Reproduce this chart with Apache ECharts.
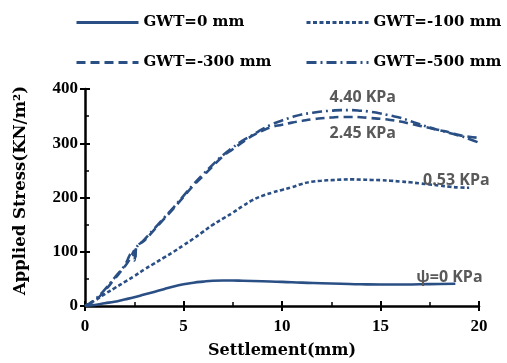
<!DOCTYPE html>
<html><head><meta charset="utf-8">
<script src="https://cdn.jsdelivr.net/npm/echarts@6/dist/echarts.min.js"></script>
<style>html,body{margin:0;padding:0;background:#fff}#c{width:507px;height:363px}</style>
</head><body><div id="c"></div>
<script>
const seriesNames = ['GWT=0 mm','GWT=-100 mm','GWT=-300 mm','GWT=-500 mm'];
const x0 = [0,0.5,1,1.5,2,2.5,3,3.5,4,4.5,5,5.5,6,6.5,7,7.5,8,9,10,11,12,13,14,15,16,17,18,18.8];
const y0 = [0,2,5,8,12,16,21,26,31,36,40,43,45,46.5,47,47,46.5,45.5,44.5,43,42,41,40,39.5,39.5,40,40.5,41];
const x100 = [0,0.5,1,1.5,2,2.5,3,3.5,4,4.5,5,5.5,6,6.5,7,7.5,8,8.5,9,9.5,10,10.5,11,11.5,12,12.5,13,13.5,14,14.5,15,15.5,16,16.5,17,17.5,18,18.5,19,19.5];
const y100 = [0,10,22,33,44,55,67,78,89,100,112,124,137,150,161,172,184,195,203,209,214,219,225,229,231,232,233,233.5,233,232.5,232,231,229.5,228,226,224,222,220,218.5,218];
const x300 = [0,0.5,1,1.5,2,2.3,2.5,2.55,2.6,3,3.5,4,4.5,5,5.5,6,6.5,7,7.5,8,8.5,9,9.5,10,10.5,11,11.5,12,12.5,13,13.5,14,14.5,15,15.5,16,16.5,17,17.5,18,18.5,19,19.5,20];
const y300 = [0,10,28,50,72,88,102,88,108,120,140,160,180,201,222,240,258,276,289,302,314,323,330,334,338,341,344,346,347.5,348.5,348.5,348,346.5,345,343,340,336,332,328,324,320,315,312,310];
const x500 = [0,0.5,1,1.5,2,2.4,2.5,2.6,3,3.5,4,4.5,5,5.5,6,6.5,7,7.5,8,8.5,9,9.5,10,10.5,11,11.5,12,12.5,13,13.5,14,14.5,15,15.5,16,16.5,17,17.5,18,18.5,19,19.5,20];
const y500 = [0,12,30,52,74,98,84,106,122,142,162,182,203,224,243,261,278,292,305,315,326,335,342,348,353,356,358.5,360,361,361,360,358,355,351,347,341,335,329,324,319,314,308,301];
const annoText = ['ψ=0 KPa','0.53 KPa','2.45 KPa','4.40 KPa'];
const annoX = [18.5,18.85,14.1,14.1];
const annoY = [52,232,319,385];
const xTicks = [0,5,10,15,20];
const yTicks = [0,100,200,300,400];

const color = '#2a4f85';
const serif = 'DejaVu Serif';
const tickFont = 'Liberation Serif';
const dashes = ['solid',[4,2.5],[9,5],[10,4,2,4]];
const xs=[x0,x100,x300,x500], ys=[y0,y100,y300,y500];

const chart = echarts.init(document.getElementById('c'));
const series = seriesNames.map((n,i)=>({
  name:n, type:'line', symbol:'none', smooth:true, xAxisIndex:0, yAxisIndex:0,
  data: xs[i].map((x,k)=>[x, ys[i][k]]),
  lineStyle:{color:color, width:2.6, type:dashes[i]},
  itemStyle:{color:color},
  markPoint:{symbol:'circle', symbolSize:0, silent:true,
    label:{show:true, position:'inside', formatter:annoText[i], color:'#595959', fontFamily:'Open Sans', fontWeight:'bold', fontSize:16},
    data:[{coord:[annoX[i], annoY[i]]}]}
}));
const legPos = [[75,15],[305,15],[75,55],[305,55]];
const legends = seriesNames.map((n,i)=>({
  data:[n], left:legPos[i][0], top:legPos[i][1], padding:0, itemWidth:62, itemHeight:14, itemGap:6,
  itemStyle:{opacity:0},
  lineStyle:{width:3},
  textStyle:{fontFamily:serif, fontWeight:'bold', fontSize:15, color:'#000'}
}));
const axisLabelStyle = {fontFamily:tickFont, fontWeight:'bold', fontSize:17, color:'#000'};
chart.setOption({
  animation:false,
  legend: legends,
  grid:{left:85, right:28, top:89, bottom:57, containLabel:false, outerBoundsMode:'none'},
  xAxis:[
    {type:'value', min:0, max:20, interval:5, position:'bottom',
     name:'Settlement(mm)', nameLocation:'middle', nameGap:37,
     nameTextStyle:{fontFamily:serif, fontWeight:'bold', fontSize:16, color:'#000'},
     axisLine:{lineStyle:{color:'#000', width:2.5}},
     axisTick:{show:true, length:5, lineStyle:{color:'#000', width:2}},
     axisLabel:Object.assign({margin:12, formatter:v=>xTicks.includes(v)?String(v):''}, axisLabelStyle),
     splitLine:{show:false}},
    {type:'value', min:0, max:20, interval:5, position:'bottom',
     axisLine:{show:false}, axisLabel:{show:false}, splitLine:{show:false},
     axisTick:{show:true, inside:true, length:5, lineStyle:{color:'#000', width:2}},
     minorTick:{show:true, splitNumber:2, length:4, lineStyle:{color:'#000', width:1.5}}}
  ],
  yAxis:[
    {type:'value', min:0, max:400, interval:100, position:'left',
     name:'Applied Stress(KN/m²)', nameLocation:'middle', nameGap:56, nameRotate:90,
     nameTextStyle:{fontFamily:serif, fontWeight:'bold', fontSize:16.5, color:'#000', padding:[0,0,0,14]},
     axisLine:{show:true, lineStyle:{color:'#000', width:2.5}},
     axisTick:{show:true, length:5, lineStyle:{color:'#000', width:2}},
     axisLabel:Object.assign({margin:7, formatter:v=>yTicks.includes(v)?String(v):''}, axisLabelStyle),
     splitLine:{show:false}},
    {type:'value', min:0, max:400, interval:100, position:'left',
     axisLine:{show:false}, axisLabel:{show:false}, splitLine:{show:false},
     axisTick:{show:true, inside:true, length:5, lineStyle:{color:'#000', width:2}},
     minorTick:{show:true, splitNumber:2, length:4, lineStyle:{color:'#000', width:1.5}}}
  ],
  series: series
});
</script></body></html>
